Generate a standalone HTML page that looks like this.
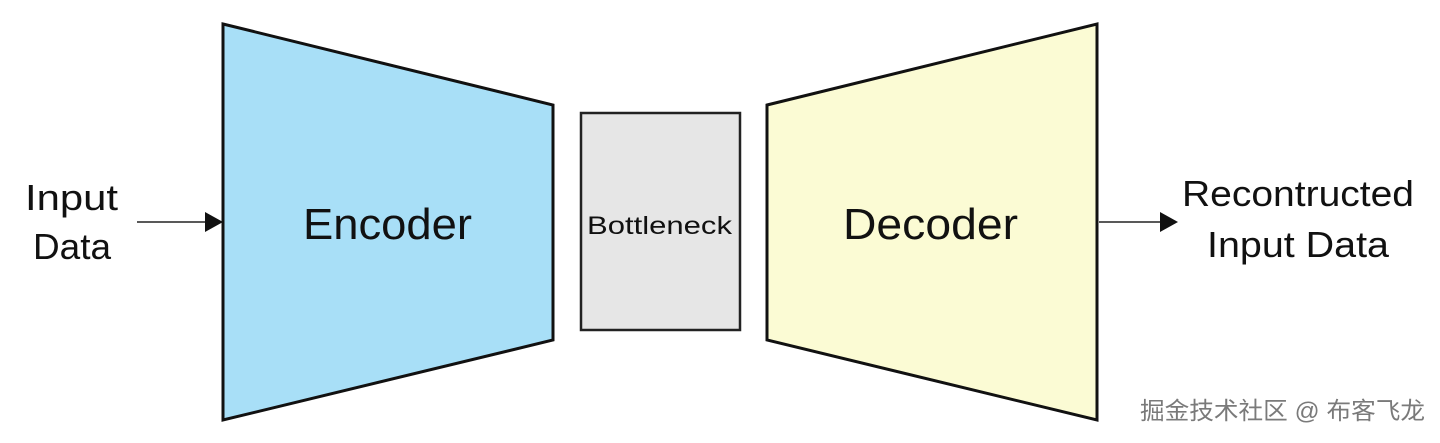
<!DOCTYPE html>
<html><head><meta charset="utf-8"><style>
html,body{margin:0;padding:0;background:#fff;}
</style></head><body>
<svg width="1440" height="443" viewBox="0 0 1440 443" xmlns="http://www.w3.org/2000/svg" style="display:block">
<polygon points="223,24 553,105 553,340 223,420" fill="#a8dff7" stroke="#111" stroke-width="3"/>
<rect x="581" y="113" width="159" height="217" fill="#e6e6e6" stroke="#222" stroke-width="2.5"/>
<polygon points="767,105 1097,24 1097,420 767,340" fill="#fbfbd4" stroke="#111" stroke-width="3"/>
<line x1="137" y1="222" x2="210" y2="222" stroke="#222" stroke-width="1.5"/>
<polygon points="205,212 223,222 205,232" fill="#111"/>
<line x1="1099" y1="222" x2="1163" y2="222" stroke="#222" stroke-width="1.5"/>
<polygon points="1160,212 1178,222 1160,232" fill="#111"/>
<g font-family="'Liberation Sans',sans-serif" fill="#111" lengthAdjust="spacingAndGlyphs">
<text x="303" y="239" font-size="44" textLength="169" lengthAdjust="spacingAndGlyphs">Encoder</text>
<text x="843" y="239" font-size="44" textLength="175" lengthAdjust="spacingAndGlyphs">Decoder</text>
<text x="587" y="234" font-size="25" textLength="145" lengthAdjust="spacingAndGlyphs">Bottleneck</text>
<text x="25" y="210" font-size="36" textLength="93" lengthAdjust="spacingAndGlyphs">Input</text>
<text x="33" y="259" font-size="36" textLength="78" lengthAdjust="spacingAndGlyphs">Data</text>
<text x="1182" y="206" font-size="36" textLength="232" lengthAdjust="spacingAndGlyphs">Recontructed</text>
<text x="1207" y="257" font-size="36" textLength="182" lengthAdjust="spacingAndGlyphs">Input Data</text>
</g>
<text x="1140" y="419" font-family="'Liberation Sans','Noto Sans CJK SC',sans-serif" font-size="24" fill="#7a7a7a" textLength="285" lengthAdjust="spacingAndGlyphs">掘金技术社区 @ 布客飞龙</text>
</svg>
</body></html>
